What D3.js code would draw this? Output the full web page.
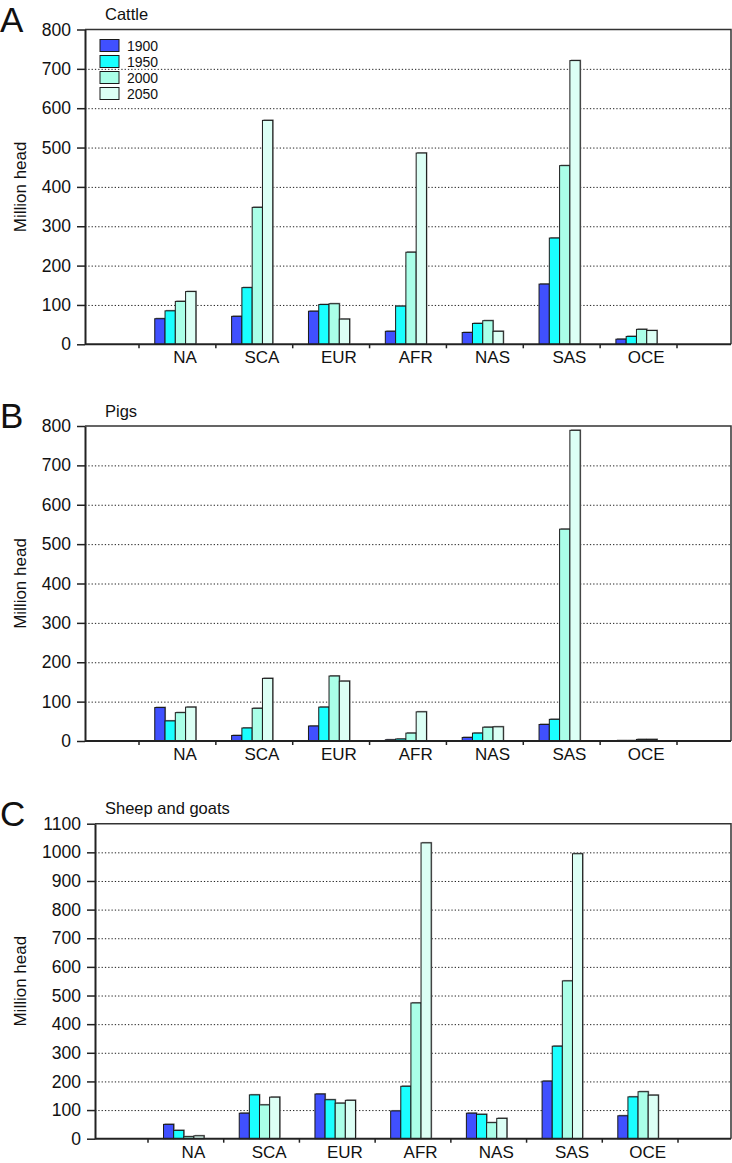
<!DOCTYPE html>
<html>
<head>
<meta charset="utf-8">
<script src="https://cdn.jsdelivr.net/npm/d3@7"></script>
<style>
  body { margin: 0; background: #fff; }
  svg { display: block; font-family: "Liberation Sans", Arial, Helvetica, sans-serif; }
</style>
</head>
<body>
<svg id="chart" width="732" height="1163"></svg>
<script>
// regions and series years
const regions = ["NA", "SCA", "EUR", "AFR", "NAS", "SAS", "OCE"];
const years = ["1900", "1950", "2000", "2050"];
const yearColours = ["#4050ff", "#1affff", "#aaffe8", "#dcfff5"];

// million head, one row per region, columns 1900/1950/2000/2050
const cattle = [
    [65, 85, 109, 134],
    [71, 144, 348, 569],
    [84, 101, 103, 64],
    [33, 97, 234, 486],
    [30, 53, 60, 33],
    [153, 270, 454, 721],
    [13, 20, 38, 35]
];
const pigs = [
    [85, 51, 72, 86],
    [14, 33, 83, 159],
    [38, 86, 165, 152],
    [3, 5, 20, 74],
    [9, 20, 35, 36],
    [42, 55, 538, 789],
    [1, 1, 4, 4]
];
const sheepGoats = [
    [50, 29, 7, 10],
    [89, 153, 118, 145],
    [156, 136, 124, 134],
    [97, 183, 474, 1033],
    [89, 85, 56, 71],
    [201, 323, 551, 995],
    [80, 146, 164, 152]
];

// y tick labels
const cattleTicks = [0, 100, 200, 300, 400, 500, 600, 700, 800];
const pigTicks = [0, 100, 200, 300, 400, 500, 600, 700, 800];
const sheepTicks = [0, 100, 200, 300, 400, 500, 600, 700, 800, 900, 1000, 1100];

const svg = d3.select("#chart");

function drawPanel(opts) {
    const { letter, title, data, ticks, left, top, bottom, right, bandStart, bandEnd } = opts;
    const g = svg.append("g");

    const y = d3.scaleLinear()
        .domain([0, d3.max(ticks)])
        .range([bottom, top]);

    const x = d3.scaleBand()
        .domain(regions)
        .range([bandStart, bandEnd]);
    const bw = x.bandwidth();

    // bars inside each region sit a bit left of the band centre
    const xs = d3.scaleBand()
        .domain(years)
        .range([bw * 0.205, bw * 0.74]);

    // letter + title
    g.append("text")
        .attr("x", 0)
        .attr("y", top + 2)
        .attr("font-size", 35)
        .attr("fill", "#111")
        .text(letter);
    g.append("text")
        .attr("x", 105)
        .attr("y", top - 9.5)
        .attr("font-size", 16.5)
        .attr("fill", "#111")
        .text(title);

    // dotted grid
    g.append("g")
        .selectAll("line")
        .data(ticks.filter(t => t > 0 && t < d3.max(ticks)))
        .join("line")
        .attr("x1", left)
        .attr("x2", right)
        .attr("y1", d => y(d) + 0.5)
        .attr("y2", d => y(d) + 0.5)
        .attr("stroke", "#222")
        .attr("stroke-width", 1)
        .attr("stroke-dasharray", "1.3,2");

    // frame: top and right
    g.append("path")
        .attr("d", `M${left},${top}H${right}V${bottom}`)
        .attr("fill", "none")
        .attr("stroke", "#333")
        .attr("stroke-width", 1.5);

    // bars with a little grey shadow
    const groups = g.append("g")
        .selectAll("g")
        .data(regions.map((r, i) => ({ region: r, values: data[i] })))
        .join("g")
        .attr("transform", d => `translate(${x(d.region)},0)`);

    const barData = d => d.values.map((v, j) => ({ year: years[j], value: v, colour: yearColours[j] }));

    groups.selectAll("rect.shadow")
        .data(barData)
        .join("rect")
        .attr("class", "shadow")
        .attr("x", d => xs(d.year) + 1)
        .attr("y", d => y(d.value) - 1)
        .attr("width", xs.bandwidth())
        .attr("height", d => y(0) - y(d.value))
        .attr("fill", "#888");

    groups.selectAll("rect.bar")
        .data(barData)
        .join("rect")
        .attr("class", "bar")
        .attr("x", d => xs(d.year))
        .attr("y", d => y(d.value))
        .attr("width", xs.bandwidth())
        .attr("height", d => y(0) - y(d.value))
        .attr("fill", d => d.colour)
        .attr("stroke", "#1a1a1a")
        .attr("stroke-width", 1);

    // y axis
    g.append("g")
        .attr("transform", `translate(${left},0)`)
        .call(d3.axisLeft(y).tickValues(ticks).tickFormat(d3.format("d"))
            .tickSize(8).tickSizeOuter(0).tickPadding(6))
        .call(a => a.selectAll("text").attr("font-size", 17.5).attr("fill", "#111").attr("font-family", null))
        .call(a => a.selectAll("line").attr("stroke", "#222").attr("stroke-width", 1.5))
        .call(a => a.select(".domain").attr("stroke", "#222").attr("stroke-width", 2));

    // x axis: labels from the band scale, ticks at band boundaries
    g.append("g")
        .attr("transform", `translate(0,${bottom})`)
        .call(d3.axisBottom(x).tickSize(0).tickPadding(7))
        .call(a => a.select(".domain").remove())
        .call(a => a.selectAll("text")
            .attr("font-size", 17)
            .attr("fill", "#111")
            .attr("font-family", null)
            .attr("dx", bw * 0.1));

    g.append("line")
        .attr("x1", left)
        .attr("x2", right)
        .attr("y1", bottom)
        .attr("y2", bottom)
        .attr("stroke", "#222")
        .attr("stroke-width", 2);

    g.append("g")
        .selectAll("line")
        .data(regions.map(r => x(r)).concat([bandEnd]))
        .join("line")
        .attr("x1", d => d)
        .attr("x2", d => d)
        .attr("y1", bottom)
        .attr("y2", bottom + 4)
        .attr("stroke", "#222")
        .attr("stroke-width", 1.5);

    // y label
    g.append("text")
        .attr("transform", `translate(26,${(top + bottom) / 2}) rotate(-90)`)
        .attr("text-anchor", "middle")
        .attr("font-size", 17)
        .attr("fill", "#111")
        .text("Million head");

    return g;
}

const panelA = drawPanel({
    letter: "A", title: "Cattle", data: cattle, ticks: cattleTicks,
    left: 85, top: 29.5, bottom: 344.3, right: 731, bandStart: 139, bandEnd: 677
});

drawPanel({
    letter: "B", title: "Pigs", data: pigs, ticks: pigTicks,
    left: 85, top: 426, bottom: 741, right: 731, bandStart: 139, bandEnd: 677
});

drawPanel({
    letter: "C", title: "Sheep and goats", data: sheepGoats, ticks: sheepTicks,
    left: 95, top: 823.7, bottom: 1138.7, right: 731, bandStart: 148, bandEnd: 678
});

// legend in panel A
const legend = panelA.append("g")
    .selectAll("g")
    .data(years)
    .join("g")
    .attr("transform", (d, i) => `translate(100,${39.5 + i * 16})`);

legend.append("rect")
    .attr("width", 19)
    .attr("height", 12)
    .attr("fill", (d, i) => yearColours[i])
    .attr("stroke", "#1a1a1a")
    .attr("stroke-width", 1);

legend.append("text")
    .attr("x", 27)
    .attr("y", 11.5)
    .attr("font-size", 14)
    .attr("fill", "#111")
    .text(d => d);
</script>
</body>
</html>
